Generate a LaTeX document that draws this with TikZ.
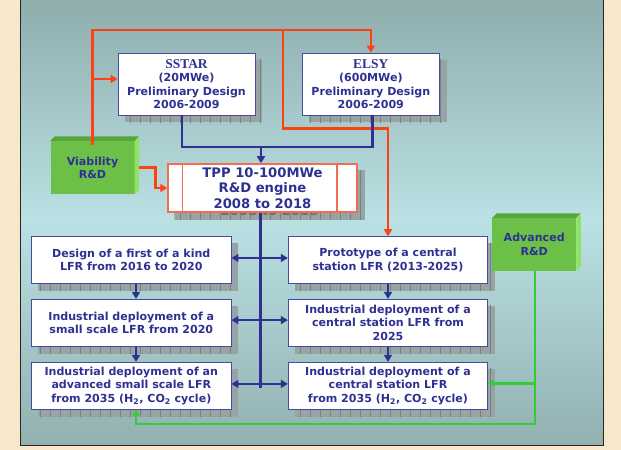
\documentclass[tikz,border=0pt]{standalone}
\usepackage{fontspec}
\setmainfont{DejaVu Sans}
\newfontfamily\serifb{Liberation Serif}
\usetikzlibrary{arrows.meta}
\definecolor{navy}{RGB}{46,49,146}
\definecolor{redl}{RGB}{255,64,16}
\definecolor{greenl}{RGB}{52,204,52}
\definecolor{bgc}{RGB}{247,232,202}
\definecolor{ptop}{RGB}{142,172,172}
\definecolor{pmid}{RGB}{186,225,228}
\definecolor{pbot}{RGB}{146,176,176}
\definecolor{shadowc}{RGB}{152,164,164}
\definecolor{gridc}{RGB}{118,130,130}
\definecolor{gface}{RGB}{108,192,72}
\definecolor{gtop}{RGB}{88,166,58}
\definecolor{gside}{RGB}{142,228,98}
\definecolor{tppc}{RGB}{242,108,82}
\definecolor{boxb}{RGB}{72,72,165}
\definecolor{shtext}{RGB}{105,112,112}
\pgfdeclarelayer{back}
\pgfdeclarelayer{shadow}
\pgfsetlayers{back,shadow,main}
\tikzset{
  txt/.style={font=\bfseries\fontsize{11.1}{13.4}\selectfont, text=navy, align=center},
  box/.style={txt, draw=boxb, line width=0.9bp, fill=white, inner sep=0pt},
  smallbox/.style={box, minimum width=137bp, minimum height=62bp},
  rowbox/.style={box, minimum width=199.4bp, minimum height=46.7bp},
  gbox/.style={txt, fill=gface, inner sep=0pt, minimum width=84bp, minimum height=53bp},
  tppfont/.style={font=\bfseries\fontsize{13.2}{15.4}\selectfont, align=center},
  redline/.style={draw=redl, line width=2.6bp},
  redarrow/.style={redline, -{Triangle[length=7bp,width=8bp]}},
  blueline/.style={draw=navy, line width=2.6bp},
  bluearrow/.style={blueline, -{Triangle[length=7bp,width=8bp]}},
  bluedouble/.style={blueline, {Triangle[length=7bp,width=8bp]}-{Triangle[length=7bp,width=8bp]}},
  greenline/.style={draw=greenl, line width=2.2bp},
  greenarrow/.style={greenline, -{Triangle[length=6bp,width=7bp]}},
}
\begin{document}
\begin{tikzpicture}[x=1bp,y=-1bp]
\useasboundingbox (0,0) rectangle (621,450);
\begin{pgfonlayer}{back}
\fill[bgc] (0,0) rectangle (621,450);
\shade[top color=ptop, bottom color=pbot, middle color=pmid] (20.7,-5) rectangle (603.3,445.7);
\draw[black!85, line width=1.5bp] (20.7,-5) rectangle (603.3,445.7);
\end{pgfonlayer}

% nodes
\node[smallbox] (sstar) at (186.5,84) {{\serifb\fontsize{13.5}{15.5}\selectfont SSTAR}\\(20MWe)\\Preliminary Design\\2006-2009};
\node[smallbox] (elsy) at (370.8,84) {{\serifb\fontsize{13.5}{15.5}\selectfont ELSY}\\(600MWe)\\Preliminary Design\\2006-2009};
\node[gbox] (via) at (92.5,167.6) {Viability\\R\&D};
\node[gbox, minimum width=83.7bp, minimum height=52.7bp] (adv) at (534.2,244.4) {Advanced\\R\&D};
\node[draw=tppc, line width=1.5bp, fill=white, inner sep=0pt, minimum width=189bp, minimum height=48bp, tppfont, text=navy] (tpp) at (262.5,188) {TPP 10-100MWe\\R\&D engine\\2008 to 2018};
\node[rowbox] (d1) at (131.3,260) {Design of a first of a kind\\LFR from 2016 to 2020};
\node[rowbox] (d2) at (131.3,322.7) {Industrial deployment of a\\small scale LFR from 2020};
\node[rowbox] (d3) at (131.3,385.7) {Industrial deployment of an\\advanced small scale LFR\\from 2035 (H\textsubscript{2}, CO\textsubscript{2} cycle)};
\node[rowbox] (p1) at (388,260) {Prototype of a central\\station LFR (2013-2025)};
\node[rowbox] (p2) at (388,322.7) {Industrial deployment of a\\central station LFR from\\2025};
\node[rowbox] (p3) at (388,385.7) {Industrial deployment of a\\central station LFR\\from 2035 (H\textsubscript{2}, CO\textsubscript{2} cycle)};

% tpp inner lines
\draw[tppc, line width=1.5bp] ([xshift=15.3bp]tpp.north west) -- ([xshift=15.3bp]tpp.south west);
\draw[tppc, line width=1.5bp] ([xshift=-21bp]tpp.north east) -- ([xshift=-21bp]tpp.south east);

% 3D bevels of green boxes
\foreach \g in {via,adv}{
  \fill[gtop] (\g.north west) -- ([shift={(4.5,-4.5)}]\g.north west) -- ([shift={(4.5,-4.5)}]\g.north east) -- (\g.north east) -- cycle;
  \fill[gside] (\g.north east) -- ([shift={(4.5,-4.5)}]\g.north east) -- ([shift={(4.5,-4.5)}]\g.south east) -- (\g.south east) -- cycle;
}

% shadows
\begin{pgfonlayer}{shadow}
\foreach \n in {sstar,elsy,tpp,d1,d2,d3,p1,p2,p3}{
  \begin{scope}
    \clip ([shift={(7,7)}]\n.north west) rectangle ([shift={(7,7)}]\n.south east);
    \fill[shadowc] ([shift={(7,7)}]\n.north west) rectangle ([shift={(7,7)}]\n.south east);
    \draw[gridc, line width=0.4bp, xstep=10, ystep=7] (\n.north west) grid ([shift={(10,10)}]\n.south east);
  \end{scope}
}
\begin{scope}
  \clip ([xshift=-20bp]tpp.south west) rectangle ([shift={(30,20)}]tpp.south east);
  \node[tppfont, text=shtext] (tppsh) at ([shift={(7,22.4)}]tpp.center) {2008 to 2018};
\end{scope}
\end{pgfonlayer}

% red connectors
\coordinate (tl) at (92.5,30);
\coordinate (tm) at (283,30);
\coordinate (rb) at (283,128.7);
\draw[redarrow] ([yshift=-4.5bp]via.north) -- (tl) -| (elsy.north);
\draw[redarrow] ([yshift=5bp]sstar.west -| tl) -- ([yshift=5bp]sstar.west);
\draw[redarrow] (tm) -- (rb) -| (p1.north);
\draw[redarrow] ([xshift=4bp]via.east) -- ++(17,0) |- (tpp.west);

% blue connectors
\coordinate (bj) at (261,147);
\coordinate (vb) at (260.7,387.5);
\draw[blueline] ([xshift=-4.5bp]sstar.south) |- (bj) -| ([xshift=1.7bp]elsy.south);
\draw[bluearrow] (bj) -- (bj |- tpp.north);
\draw[blueline] (tpp.south -| vb) -- (vb);
\draw[bluedouble] ([yshift=2bp]d1.east) -- ([yshift=2bp]p1.west);
\draw[bluedouble] ([yshift=2.6bp]d2.east) -- ([yshift=2.6bp]p2.west);
\draw[bluedouble] ([yshift=1.8bp]d3.east) -- ([yshift=1.8bp]p3.west);
\draw[bluearrow] ([xshift=4.7bp]d1.south) -- ([xshift=4.7bp]d2.north);
\draw[bluearrow] ([xshift=4.7bp]d2.south) -- ([xshift=4.7bp]d3.north);
\draw[bluearrow] (p1.south) -- (p2.north);
\draw[bluearrow] (p2.south) -- (p3.north);

% green connectors
\coordinate (gb) at (535.3,424.3);
\draw[greenarrow] ([xshift=1.1bp]adv.south) -- (gb) -| ([xshift=4.7bp]d3.south);
\draw[greenarrow] ([yshift=2.3bp]p3.east -| gb) -- ([yshift=2.3bp]p3.east);
\end{tikzpicture}
\end{document}
